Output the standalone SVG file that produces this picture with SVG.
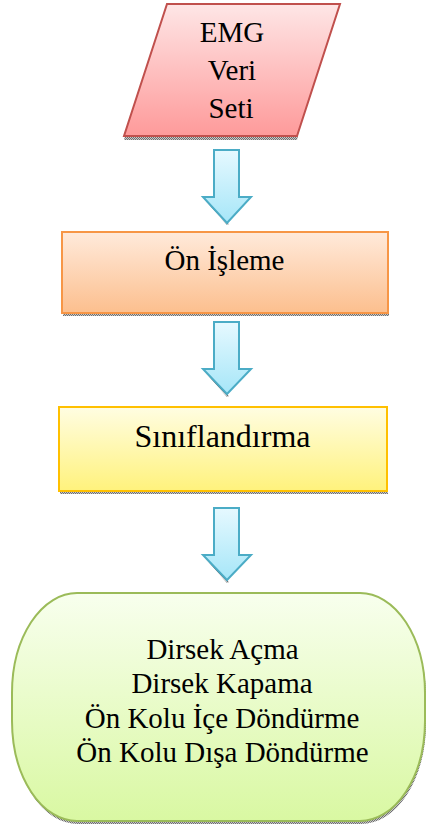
<svg xmlns="http://www.w3.org/2000/svg" width="427" height="828" viewBox="0 0 427 828">
<defs>
<linearGradient id="gRed" x1="0" y1="0" x2="0" y2="1"><stop offset="0" stop-color="#fee6e6"/><stop offset="1" stop-color="#fe9a9a"/></linearGradient>
<linearGradient id="gOrange" x1="0" y1="0" x2="0" y2="1"><stop offset="0" stop-color="#ffeadb"/><stop offset="1" stop-color="#fcbf8e"/></linearGradient>
<linearGradient id="gYellow" x1="0" y1="0" x2="0" y2="1"><stop offset="0" stop-color="#fffde2"/><stop offset="1" stop-color="#fff27c"/></linearGradient>
<linearGradient id="gGreen" x1="0" y1="0" x2="0" y2="1"><stop offset="0" stop-color="#f8ffee"/><stop offset="1" stop-color="#d9f8a2"/></linearGradient>
<linearGradient id="gBlue" x1="0" y1="0" x2="0" y2="1"><stop offset="0" stop-color="#e6f9ff"/><stop offset="1" stop-color="#a6e6f8"/></linearGradient>
<pattern id="dither" width="2" height="2" patternUnits="userSpaceOnUse"><rect width="2" height="2" fill="#c8c8c8"/><rect width="1" height="1" fill="#707070"/><rect x="1" y="1" width="1" height="1" fill="#707070"/></pattern>
</defs>
<style>
text{font-family:"Liberation Serif",serif;fill:#000;text-anchor:middle}
.shadow{fill:url(#dither)}
.arrow{fill:url(#gBlue);stroke:#4bacc6;stroke-width:2;stroke-linejoin:miter}
</style>
<g id="connectors">
<polygon class="shadow" points="204,199 227,225 229,224 206,198"/>
<polygon class="arrow" points="214,150 239,150 239,197 251,197 227,223 203,197 214,197"/>
<polygon class="shadow" points="204,371 227,397 229,396 206,370"/>
<polygon class="arrow" points="214,322 239,322 239,369 251,369 227,394 203,369 214,369"/>
<polygon class="shadow" points="204,557 227,583 229,582 206,556"/>
<polygon class="arrow" points="214,508 239,508 239,555 251,555 227,580 203,555 214,555"/>
</g>
<g id="node-emg">
<polygon class="shadow" points="125,136 298,136 297,140 124,140"/>
<polygon points="167,4 340,4 297,136 124,136" fill="url(#gRed)" stroke="#c0504d" stroke-width="2"/>
<text x="232" y="42" font-size="29">EMG</text>
<text x="232" y="80" font-size="29">Veri</text>
<text x="231" y="118" font-size="29">Seti</text>
</g>
<g id="node-onisleme">
<rect class="shadow" x="63" y="313" width="326" height="3"/>
<rect x="62" y="232" width="326" height="81" fill="url(#gOrange)" stroke="#f79646" stroke-width="2"/>
<text x="224.5" y="270" font-size="29">Ön İşleme</text>
</g>
<g id="node-siniflandirma">
<rect class="shadow" x="60" y="491" width="328" height="3"/>
<rect x="59" y="407" width="328" height="84" fill="url(#gYellow)" stroke="#ffc000" stroke-width="2"/>
<text x="222.5" y="447" font-size="32">Sınıflandırma</text>
</g>
<g id="node-sonuc">
<rect class="shadow" x="13" y="596" width="413" height="228" rx="65" ry="100"/>
<rect x="12" y="593" width="413" height="228" rx="65" ry="100" fill="url(#gGreen)" stroke="#9bbb59" stroke-width="2"/>
<text x="222.5" y="659" font-size="29">Dirsek Açma</text>
<text x="222" y="693" font-size="29">Dirsek Kapama</text>
<text x="222" y="728" font-size="29">Ön Kolu İçe Döndürme</text>
<text x="222.5" y="762" font-size="29">Ön Kolu Dışa Döndürme</text>
</g>
</svg>
